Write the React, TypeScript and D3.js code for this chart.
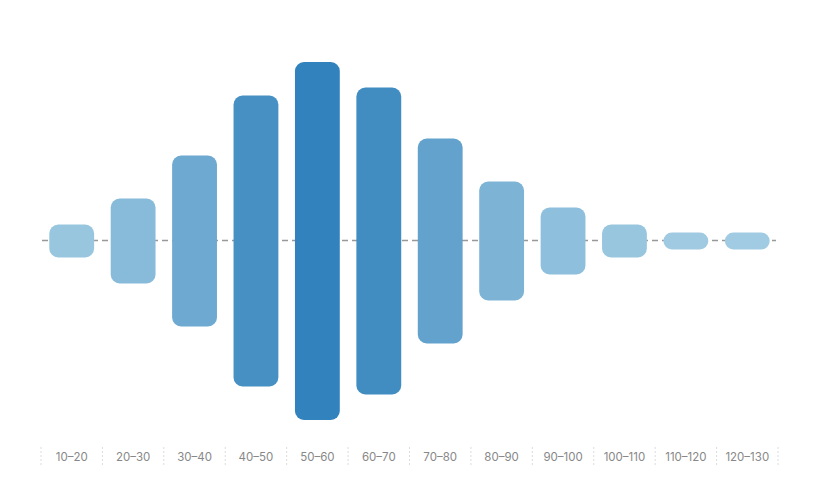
import { useEffect, useRef } from 'react';
import * as d3 from 'd3';

// age groups and their share
const categories = [
	'10–20', '20–30', '30–40', '40–50', '50–60', '60–70',
	'70–80', '80–90', '90–100', '100–110', '110–120', '120–130',
];
const values = [3.3, 8.5, 17.1, 29.1, 35.8, 30.7, 20.5, 11.9, 6.7, 3.3, 1.2, 1.0];

export default function App() {
	const svgRef = useRef<SVGSVGElement>(null);

	const width = 820;
	const height = 500;
	const margin = { left: 41, right: 42 };
	const centerY = 241;
	const minBar = 17;

	useEffect(() => {
		if (!svgRef.current) return;
		const svg = d3.select(svgRef.current);
		svg.selectAll('*').remove();

		const xScale = d3
			.scaleBand<string>()
			.domain(categories)
			.range([margin.left, width - margin.right])
			.paddingInner(0.27)
			.paddingOuter(0.135);

		const hScale = d3.scaleLinear().domain([0, 35.8]).range([0, 358]);

		const color = d3
			.scaleLinear<string>()
			.domain([0, d3.max(values) as number])
			.range(['#a3cde3', '#3182bd'])
			.interpolate(d3.interpolateRgb);

		// baseline
		svg.append('line')
			.attr('x1', margin.left + 1)
			.attr('x2', width - margin.right - 2)
			.attr('y1', centerY - 0.5)
			.attr('y2', centerY - 0.5)
			.attr('stroke', '#999')
			.attr('stroke-width', 1.5)
			.attr('stroke-dasharray', '6,4');

		const bw = xScale.bandwidth();
		svg.append('g')
			.selectAll('rect')
			.data(values)
			.enter()
			.append('rect')
			.attr('x', (_, i) => xScale(categories[i]) as number)
			.attr('width', bw)
			.attr('y', (d) => centerY - Math.max(hScale(d), minBar) / 2)
			.attr('height', (d) => Math.max(hScale(d), minBar))
			.attr('rx', (d) => Math.min(9, Math.max(hScale(d), minBar) / 2))
			.attr('fill', (d) => color(d));

		// category separators
		const step = xScale.step();
		const edges = d3.range(categories.length + 1).map((i) => margin.left + i * step);
		svg.append('g')
			.selectAll('line')
			.data(edges)
			.enter()
			.append('line')
			.attr('x1', (d) => d)
			.attr('x2', (d) => d)
			.attr('y1', 447)
			.attr('y2', 466)
			.attr('stroke', '#dcdcdc')
			.attr('stroke-dasharray', '2,2');

		svg.append('g')
			.selectAll('text')
			.data(categories)
			.enter()
			.append('text')
			.attr('x', (d) => (xScale(d) as number) + bw / 2)
			.attr('y', 457)
			.attr('dy', '0.35em')
			.attr('text-anchor', 'middle')
			.attr('font-family', 'Inter, "Noto Sans", sans-serif')
			.attr('font-size', 11.5)
			.attr('fill', '#888')
			.text((d) => d);
	}, []);

	return (
		<svg
			ref={svgRef}
			width={width}
			height={height}
			style={{ position: 'absolute', left: 0, top: 0, display: 'block', background: '#fff' }}
		/>
	);
}
